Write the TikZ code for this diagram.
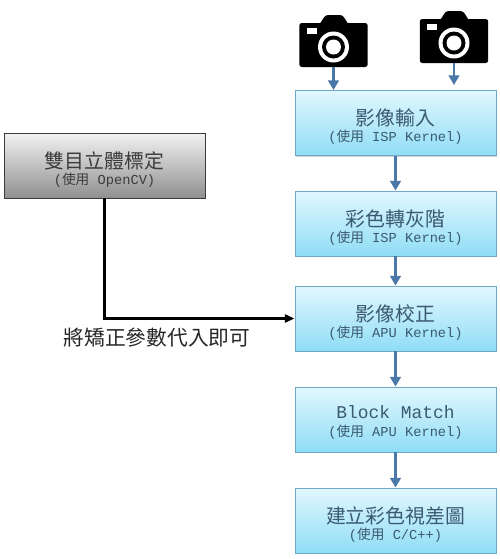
\documentclass[tikz,border=0pt]{standalone}
\usepackage{fontspec}
\setmainfont{Liberation Mono}
\newfontfamily\cjk{Noto Sans CJK TC}
\usepackage{xcolor}
\usetikzlibrary{positioning,shapes,arrows.meta,shadows}
\definecolor{flowblue}{HTML}{4A78A8}
\definecolor{boxtext}{HTML}{3A5A70}
\definecolor{boxedge}{HTML}{6FA8C4}
\definecolor{boxtop}{HTML}{E2F7FE}
\definecolor{boxbottom}{HTML}{8FDDF6}
\definecolor{calibtop}{HTML}{F2F2F2}
\definecolor{calibbottom}{HTML}{8F8F8F}
\definecolor{calibedge}{HTML}{3A3A3A}
\definecolor{calibtext}{HTML}{3C3C3C}
\newcommand{\boxtitle}[1]{\rule{0pt}{14pt}{\fontsize{11.3}{15}\selectfont\cjk #1}\\[-2.8pt]}
\newcommand{\latintitle}[1]{\rule{0pt}{11pt}{\fontsize{10.2}{15}\selectfont #1}\\[-1.8pt]}
\newcommand{\subline}[1]{{\fontsize{7.8}{11}\selectfont({\cjk 使用} #1)}}
\tikzset{
    stepbox/.style={rectangle, draw=boxedge, line width=0.5pt, top color=boxtop, bottom color=boxbottom,
        minimum width=4.02cm, minimum height=1.3cm, align=center, text=boxtext, inner sep=0pt,
        drop shadow={shadow xshift=0.3pt, shadow yshift=-0.6pt, opacity=0.35}},
    calibbox/.style={stepbox, draw=calibedge, top color=calibtop, bottom color=calibbottom, text=calibtext},
    flow/.style={draw=flowblue, line width=1.5pt, -{Triangle[length=5.5pt,width=6pt]}},
    param/.style={draw=black, line width=1.4pt, -{Triangle[length=5.5pt,width=4.5pt]}},
    note/.style={font=\fontsize{11.8}{15}\selectfont\cjk, text=black!85, inner sep=0pt},
    pics/camera/.style={code={
        \fill[black, rounded corners=1.5pt] (-15,-19) -- (-8,-30) -- (9,-30) -- (16,-19) -- cycle;
        \node[rectangle, fill=black, rounded corners=1.5pt, minimum width=1.37cm, minimum height=0.88cm, inner sep=0pt] (-body) at (0,0) {};
        \fill[white] (-27,-17) rectangle (-17,-11);
        \fill[white] (0,2) circle (15.5);
        \fill[black] (0,2) circle (11.5);
        \fill[white] (0,2) circle (7.5);
    }}
}

\begin{document}
\begin{tikzpicture}[x=0.02cm, y=-0.02cm]
    \useasboundingbox (0,0) rectangle (500,559);

    % Cameras
    \pic (camleft) at (333.5,45) {camera};
    \pic (camright) at (454,41) {camera};
    \coordinate (camstop) at (454,85);

    % Boxes
    \node[stepbox] (input) at (395.5,123) {\boxtitle{影像輸入}\subline{ISP Kernel}};
    \node[stepbox] (gray) at (395.5,223.5) {\boxtitle{彩色轉灰階}\subline{ISP Kernel}};
    \node[stepbox] (rectify) at (395.5,318.5) {\boxtitle{影像校正}\subline{APU Kernel}};
    \node[stepbox] (match) at (395.5,419.5) {\latintitle{Block Match}\subline{APU Kernel}};
    \node[stepbox] (disparity) at (395.5,520.5) {\boxtitle{建立彩色視差圖}\subline{C/C++}};
    \node[calibbox] (calib) at (104.5,165.5) {\boxtitle{雙目立體標定}\subline{OpenCV}};

    % Arrows
    \draw[flow] (camleft-body) -- (camleft-body |- input.north);
    \draw[flow] (camright-body) -- (camstop);
    \foreach \from/\to in {input/gray, gray/rectify, rectify/match, match/disparity}
        \draw[flow] (\from) -- (\to);
    \draw[param] (calib) |- (rectify);

    % Label
    \node[note] (paramtext) at (157,338) {將矯正參數代入即可};
\end{tikzpicture}
\end{document}
